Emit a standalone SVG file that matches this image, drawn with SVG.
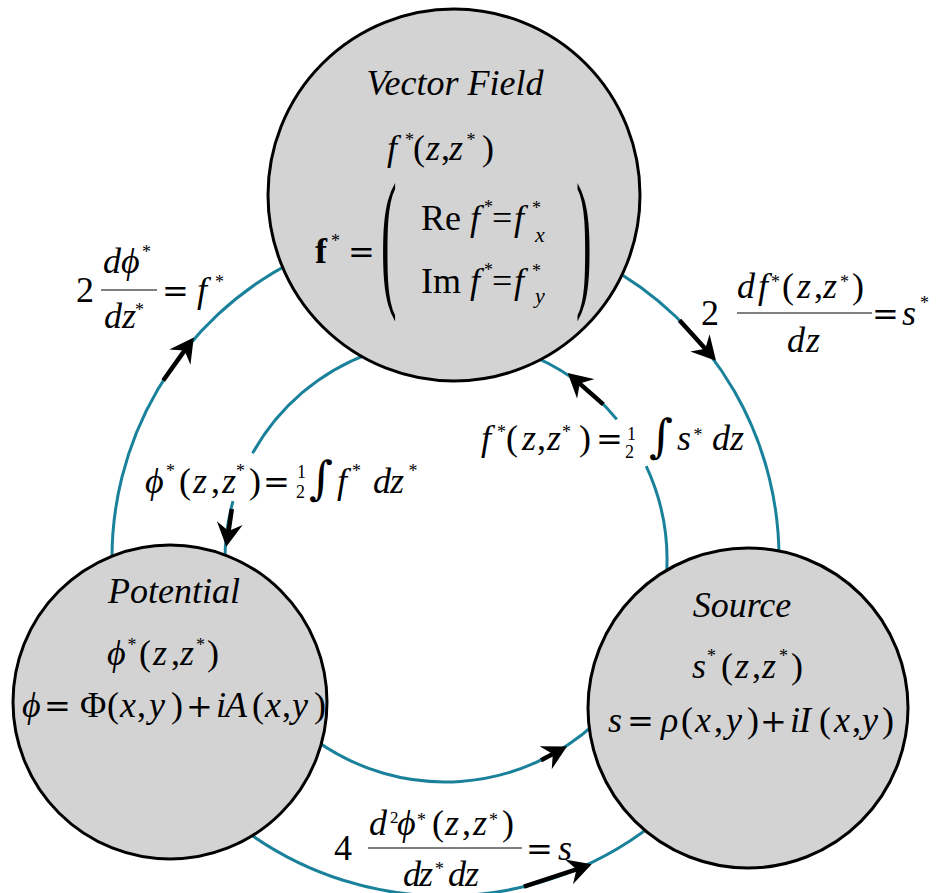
<svg xmlns="http://www.w3.org/2000/svg" width="941" height="893" viewBox="0 0 941 893">
<style>
  .node { fill:#d3d3d3; stroke:#000; stroke-width:3; }
  .conn { fill:none; stroke:#1a819b; stroke-width:3; }
  .arr { fill:none; stroke:#000; stroke-width:4.5; marker-end:url(#ah); }
  .bar { stroke:#808080; stroke-width:2; }
  text { font-family:"Liberation Serif","DejaVu Serif",serif; font-size:36px; fill:#000; }
  .i { font-style:italic; }
  .s { font-size:18px; font-style:normal; }
  .u { font-style:normal; }
  .op { font-family:"DejaVu Serif","Liberation Serif",serif; font-size:32px; font-style:normal; }
  .fr { font-size:18px; font-style:normal; }
  .sub { font-size:22px; font-style:italic; }
  .int { font-family:"DejaVu Serif","Liberation Serif",serif; font-size:46px; font-style:normal; }
</style>
<defs>
  <marker id="ah" markerUnits="userSpaceOnUse" markerWidth="24" markerHeight="26" viewBox="0 0 24 26" refX="8" refY="13" orient="auto">
    <path d="M24,13 L0,0 L8,13 L0,26 Z" fill="#000"/>
  </marker>
</defs>

<g id="connectors">
  <path class="conn" d="M112.2,569.6 A333,333 0 0 1 293.8,261.3"/>
  <path class="conn" d="M601.8,263.1 A334,334 0 0 1 778.8,569.7"/>
  <path class="conn" d="M246.3,831.4 A338,338 0 0 0 662.3,816.9"/>
  <path class="conn" d="M369.8,353.3 A220,220 0 0 0 252.6,453.3"/>
  <path class="conn" d="M233,501.2 A220,220 0 0 0 225.1,567.7"/>
  <path class="conn" d="M666.2,579.3 A222,222 0 0 0 646.2,466.2"/>
  <path class="conn" d="M616.8,419.4 A222,222 0 0 0 520.9,351.4"/>
  <path class="conn" d="M317.7,741.8 A222,222 0 0 0 596.4,722.4"/>
  <line class="arr" x1="163.2" y1="380.5" x2="184.5" y2="350.6"/>
  <line class="arr" x1="679.5" y1="320.2" x2="705.3" y2="348.8"/>
  <line class="arr" x1="603.3" y1="404.4" x2="579.7" y2="383.6"/>
  <line class="arr" x1="231.8" y1="509" x2="228.6" y2="531"/>
  <line class="arr" x1="541" y1="760.2" x2="552.8" y2="754"/>
  <line class="arr" x1="523.9" y1="886.7" x2="576.5" y2="869.3"/>
</g>

<g id="node-vector-field">
  <circle class="node" cx="454" cy="195" r="186"/>
  <text class="i" x="455" y="95" text-anchor="middle">Vector Field</text>
  <text class="i"><tspan x="387" y="160">f</tspan><tspan class="s" x="405" y="146">*</tspan><tspan class="u" x="413" y="160">(</tspan><tspan x="426" y="160">z</tspan><tspan class="u" x="441" y="160">,</tspan><tspan x="449" y="160">z</tspan><tspan class="s" x="466.5" y="146">*</tspan><tspan class="u" x="482" y="160">)</tspan></text>
  <text><tspan font-weight="bold" x="315" y="263">f</tspan><tspan class="s" x="331" y="247">*</tspan><tspan class="op" x="348" y="263">=</tspan></text>
  <text transform="translate(381,289) scale(1.3,4.25)">(</text>
  <text transform="translate(576,289) scale(1.3,4.25)">)</text>
  <text><tspan x="421" y="230">Re</tspan><tspan class="i" x="470" y="230">f</tspan><tspan class="s" x="484" y="213">*</tspan><tspan x="492" y="230">=</tspan><tspan class="i" x="514" y="230">f</tspan><tspan class="s" x="532" y="214">*</tspan><tspan class="sub" x="535" y="242">x</tspan></text>
  <text><tspan x="421" y="293">Im</tspan><tspan class="i" x="470" y="293">f</tspan><tspan class="s" x="484" y="276">*</tspan><tspan x="492" y="293">=</tspan><tspan class="i" x="514" y="293">f</tspan><tspan class="s" x="532" y="277">*</tspan><tspan class="sub" x="535" y="303">y</tspan></text>
</g>

<g id="node-potential">
  <circle class="node" cx="170" cy="702" r="157"/>
  <text class="i" x="174" y="603" text-anchor="middle">Potential</text>
  <text class="i"><tspan x="107" y="665">ϕ</tspan><tspan class="s" x="127.5" y="651">*</tspan><tspan class="u" x="139" y="665">(</tspan><tspan x="153" y="665">z</tspan><tspan class="u" x="171" y="665">,</tspan><tspan x="180" y="665">z</tspan><tspan class="s" x="196" y="651">*</tspan><tspan class="u" x="207" y="665">)</tspan></text>
  <text class="i"><tspan x="22" y="717">ϕ</tspan><tspan class="op" x="44" y="717">=</tspan><tspan class="u" x="80" y="717">Φ</tspan><tspan class="u" x="107" y="717">(</tspan><tspan x="120" y="717">x</tspan><tspan class="u" x="137" y="717">,</tspan><tspan x="149" y="717">y</tspan><tspan class="u" x="171" y="717">)</tspan><tspan class="op" x="186" y="717">+</tspan><tspan x="216" y="717">i</tspan><tspan x="225" y="717">A</tspan><tspan class="u" x="252" y="717">(</tspan><tspan x="265" y="717">x</tspan><tspan class="u" x="282" y="717">,</tspan><tspan x="292" y="717">y</tspan><tspan class="u" x="314" y="717">)</tspan></text>
</g>

<g id="node-source">
  <circle class="node" cx="748" cy="708" r="160"/>
  <text class="i" x="742" y="617" text-anchor="middle">Source</text>
  <text class="i"><tspan x="692" y="678">s</tspan><tspan class="s" x="707" y="662">*</tspan><tspan class="u" x="721" y="678">(</tspan><tspan x="735" y="678">z</tspan><tspan class="u" x="752" y="678">,</tspan><tspan x="762" y="678">z</tspan><tspan class="s" x="779" y="662">*</tspan><tspan class="u" x="791" y="678">)</tspan></text>
  <text class="i"><tspan x="608" y="732">s</tspan><tspan class="op" x="627" y="732">=</tspan><tspan x="661" y="732">ρ</tspan><tspan class="u" x="681" y="732">(</tspan><tspan x="695" y="732">x</tspan><tspan class="u" x="714" y="732">,</tspan><tspan x="726" y="732">y</tspan><tspan class="u" x="747" y="732">)</tspan><tspan class="op" x="760" y="732">+</tspan><tspan x="790" y="732">i</tspan><tspan x="799" y="732">I</tspan><tspan class="u" x="819" y="732">(</tspan><tspan x="834" y="732">x</tspan><tspan class="u" x="852" y="732">,</tspan><tspan x="862" y="732">y</tspan><tspan class="u" x="882" y="732">)</tspan></text>
</g>

<g id="connector-labels">
  <g id="label-grad-phi">
    <text x="76" y="302">2</text>
    <text class="i"><tspan x="103" y="273">d</tspan><tspan x="121" y="273">ϕ</tspan><tspan class="s" x="142" y="258">*</tspan></text>
    <line class="bar" x1="101" y1="290" x2="157" y2="290"/>
    <text class="i"><tspan x="104" y="328">d</tspan><tspan x="122" y="328">z</tspan><tspan class="s" x="135" y="316">*</tspan></text>
    <text class="i"><tspan class="op" x="162" y="302">=</tspan><tspan x="197" y="302">f</tspan><tspan class="s" x="215" y="288">*</tspan></text>
  </g>
  <g id="label-div-f">
    <text x="701" y="325">2</text>
    <text class="i"><tspan x="737" y="298">d</tspan><tspan x="758" y="298">f</tspan><tspan class="s" x="771" y="288">*</tspan><tspan class="u" x="782" y="298">(</tspan><tspan x="797" y="298">z</tspan><tspan class="u" x="814" y="298">,</tspan><tspan x="823" y="298">z</tspan><tspan class="s" x="840" y="288">*</tspan><tspan class="u" x="852" y="298">)</tspan></text>
    <line class="bar" x1="737" y1="313" x2="872" y2="313"/>
    <text class="i"><tspan x="787" y="352">d</tspan><tspan x="806" y="352">z</tspan></text>
    <text class="i"><tspan class="op" x="872" y="325">=</tspan><tspan x="902" y="325">s</tspan><tspan class="s" x="920" y="309">*</tspan></text>
  </g>
  <g id="label-int-f">
    <text class="i"><tspan x="145" y="493">ϕ</tspan><tspan class="s" x="166" y="477">*</tspan><tspan class="u" x="179" y="493">(</tspan><tspan x="193" y="493">z</tspan><tspan class="u" x="211" y="493">,</tspan><tspan x="222" y="493">z</tspan><tspan class="s" x="236" y="477">*</tspan><tspan class="u" x="249" y="493">)</tspan><tspan class="op" x="263" y="493">=</tspan><tspan class="fr" x="297" y="478">1</tspan><tspan class="fr" x="296" y="498">2</tspan><tspan class="int" x="309" y="494">∫</tspan><tspan x="337" y="493">f</tspan><tspan class="s" x="352" y="477">*</tspan><tspan x="373" y="493">d</tspan><tspan x="390" y="493">z</tspan><tspan class="s" x="408.5" y="477">*</tspan></text>
  </g>
  <g id="label-int-s">
    <text class="i"><tspan x="481" y="450">f</tspan><tspan class="s" x="497" y="438">*</tspan><tspan class="u" x="506" y="450">(</tspan><tspan x="522" y="450">z</tspan><tspan class="u" x="537" y="450">,</tspan><tspan x="547" y="450">z</tspan><tspan class="s" x="562" y="438">*</tspan><tspan class="u" x="579" y="450">)</tspan><tspan class="op" x="596" y="450">=</tspan><tspan class="fr" x="627" y="440">1</tspan><tspan class="fr" x="625" y="458">2</tspan><tspan class="int" x="649" y="452">∫</tspan><tspan x="677" y="450">s</tspan><tspan class="s" x="693.5" y="441">*</tspan><tspan x="712" y="450">d</tspan><tspan x="730" y="450">z</tspan></text>
  </g>
  <g id="label-laplace">
    <text x="334" y="860">4</text>
    <text class="i"><tspan x="369" y="835">d</tspan><tspan class="u" font-size="17" x="390" y="823">2</tspan><tspan x="397" y="835">ϕ</tspan><tspan class="s" x="417" y="826">*</tspan><tspan class="u" x="432" y="835">(</tspan><tspan x="445" y="835">z</tspan><tspan class="u" x="462" y="835">,</tspan><tspan x="473" y="835">z</tspan><tspan class="s" x="489" y="826">*</tspan><tspan class="u" x="502" y="835">)</tspan></text>
    <line class="bar" x1="368" y1="848" x2="522" y2="848"/>
    <text class="i"><tspan x="403" y="886">d</tspan><tspan x="419" y="886">z</tspan><tspan class="s" x="435" y="875">*</tspan><tspan x="448" y="886">d</tspan><tspan x="465" y="886">z</tspan></text>
    <text class="i"><tspan class="op" x="526" y="860">=</tspan><tspan x="558" y="860">s</tspan></text>
  </g>
</g>
</svg>
